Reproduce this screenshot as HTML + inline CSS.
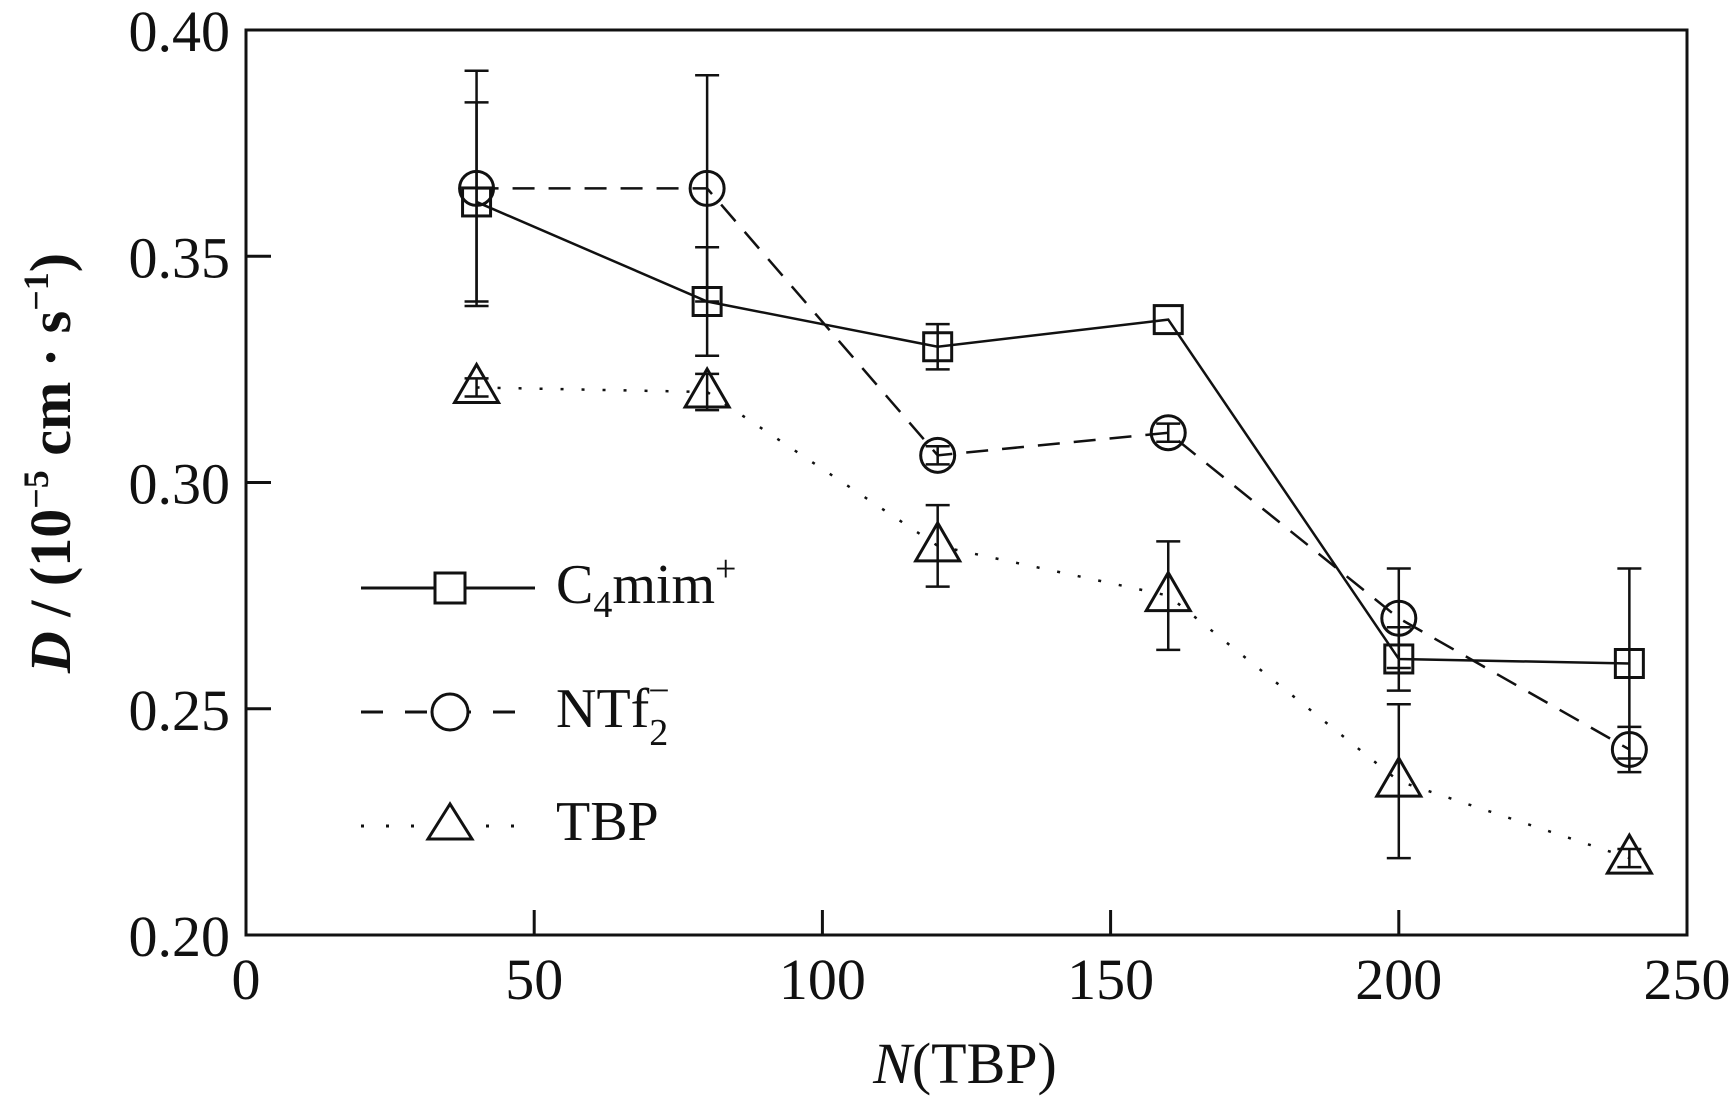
<!DOCTYPE html>
<html><head><meta charset="utf-8"><style>
html,body{margin:0;padding:0;background:#fff}
svg{display:block}
text{font-family:"Liberation Serif",serif;fill:#111}
</style></head><body>
<svg id="chart" width="1729" height="1114" viewBox="0 0 1729 1114" xmlns="http://www.w3.org/2000/svg">
<g id="axes"></g>
<g id="series"></g>
<g id="legend">
  <line x1="361" y1="588" x2="535" y2="588" stroke="#111" stroke-width="3"/>
  <rect x="435" y="573" width="30" height="30" fill="#fff" stroke="#111" stroke-width="3"/>
  <text x="556" y="603" font-size="56">C<tspan font-size="38" dy="14">4</tspan><tspan dy="-14">mim</tspan><tspan font-size="38" dy="-22">+</tspan></text>
  <line x1="361" y1="712" x2="535" y2="712" stroke="#111" stroke-width="3" stroke-dasharray="22,22"/>
  <circle cx="450" cy="712" r="18" fill="#fff" stroke="#111" stroke-width="3"/>
  <text x="556" y="727" font-size="56">NTf<tspan font-size="38" dy="18">2</tspan><tspan font-size="38" dx="-20" dy="-42">−</tspan></text>
  <line x1="361" y1="826" x2="535" y2="826" stroke="#111" stroke-width="3" stroke-dasharray="3,22"/>
  <polygon points="450,804 428,839 472,839" fill="#fff" stroke="#111" stroke-width="3"/>
  <text x="556" y="840" font-size="56">TBP</text>
</g>
<text x="965" y="1083" font-size="58" text-anchor="middle"><tspan font-style="italic">N</tspan>(TBP)</text>
<text transform="translate(70,463) rotate(-90)" font-size="58" font-weight="bold" text-anchor="middle"><tspan font-style="italic">D</tspan> / (10<tspan font-size="36" dy="-22">−5</tspan><tspan dy="22"> cm · s</tspan><tspan font-size="36" dy="-22">−1</tspan><tspan dy="22">)</tspan></text>
</svg>
<script>
const xTicks = [0, 50, 100, 150, 200, 250];
const yTicks = [0.20, 0.25, 0.30, 0.35, 0.40];
const xValues = [40, 80, 120, 160, 200, 240];
const c4mimValues = [0.362, 0.340, 0.330, 0.336, 0.261, 0.260];
const c4mimErrors = [0.022, 0.012, 0.005, 0.000, 0.007, 0.021];
const ntf2Values = [0.365, 0.365, 0.306, 0.311, 0.270, 0.241];
const ntf2Errors = [0.026, 0.025, 0.002, 0.002, 0.011, 0.005];
const tbpValues = [0.321, 0.320, 0.286, 0.275, 0.234, 0.217];
const tbpErrors = [0.002, 0.004, 0.009, 0.012, 0.017, 0.002];

const L = 246, R = 1687, T = 30, B = 935;
const xMin = 0, xMax = 250, yMin = 0.20, yMax = 0.40;
function sx(v){ return L + (v - xMin) / (xMax - xMin) * (R - L); }
function sy(v){ return B - (v - yMin) / (yMax - yMin) * (B - T); }
const NS = "http://www.w3.org/2000/svg";
function mk(tag, attrs, parent){
  const e = document.createElementNS(NS, tag);
  for (const k in attrs) e.setAttribute(k, attrs[k]);
  parent.appendChild(e);
  return e;
}
const axes = document.getElementById('axes');
const frame = mk('rect', {x:L, y:T, width:R-L, height:B-T, fill:'none', stroke:'#111', 'stroke-width':3}, axes);


xTicks.forEach(function(t){
  const x = sx(t);
  if (t > xMin && t < xMax) {
    const tk = mk('line', {x1:x, y1:B, x2:x, y2:B-25, stroke:'#111', 'stroke-width':3}, axes);
    
    
  }
  const lb = mk('text', {x:x, y:B+64, 'font-size':58, 'text-anchor':'middle'}, axes);
  lb.textContent = String(t);
  
  
});
yTicks.forEach(function(t){
  const y = sy(t);
  if (t > yMin + 1e-9 && t < yMax - 1e-9) {
    const tk = mk('line', {x1:L, y1:y, x2:L+25, y2:y, stroke:'#111', 'stroke-width':3}, axes);
    
    
  }
  const lb = mk('text', {x:L-16, y:y+21, 'font-size':58, 'text-anchor':'end'}, axes);
  lb.textContent = t.toFixed(2);
  
  
});
const seriesG = document.getElementById('series');
function drawSeries(name, vals, errs, dash, marker){
  const g = mk('g', {}, seriesG);
  
  
  const pts = xValues.map(function(x,i){ return sx(x) + ',' + sy(vals[i]); }).join(' ');
  const pl = mk('polyline', {points:pts, fill:'none', stroke:'#111', 'stroke-width':2.5, 'stroke-dasharray':dash}, g);
  
  
  xValues.forEach(function(xv,i){
    const x = sx(xv), y = sy(vals[i]);
    if (errs[i] > 0) {
      const y1 = sy(vals[i] + errs[i]), y2 = sy(vals[i] - errs[i]);
      const eb = mk('path', {d:'M'+x+','+y1+'V'+y2+'M'+(x-12)+','+y1+'H'+(x+12)+'M'+(x-12)+','+y2+'H'+(x+12), stroke:'#111', 'stroke-width':2.5, fill:'none'}, g);
      
      
    }
    let m;
    if (marker === 'square') m = mk('rect', {x:x-14, y:y-14, width:28, height:28, fill:'none', stroke:'#111', 'stroke-width':3}, g);
    else if (marker === 'circle') m = mk('circle', {cx:x, cy:y, r:17, fill:'none', stroke:'#111', 'stroke-width':3}, g);
    else m = mk('polygon', {points:x+','+(y-23)+' '+(x-22)+','+(y+15)+' '+(x+22)+','+(y+15), fill:'none', stroke:'#111', 'stroke-width':3}, g);
    
    
  });
}
drawSeries('c4mim', c4mimValues, c4mimErrors, 'none', 'square');
drawSeries('ntf2', ntf2Values, ntf2Errors, '22,14', 'circle');
drawSeries('tbp', tbpValues, tbpErrors, '3,18', 'triangle');
</script>
</body></html>
